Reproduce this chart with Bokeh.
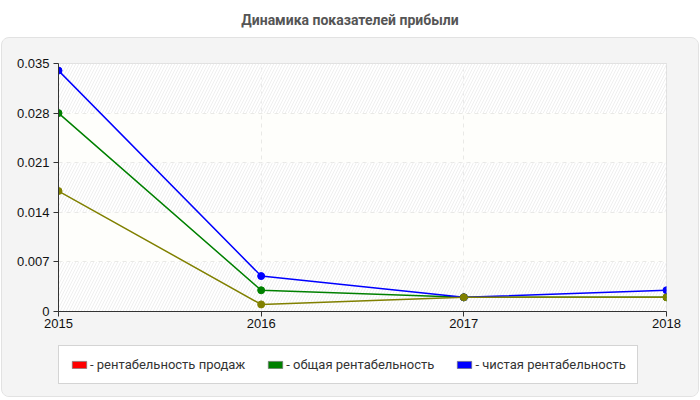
from bokeh.plotting import figure
from bokeh.models import Range1d, FixedTicker, Legend, LegendItem, BoxAnnotation, Div
from bokeh.layouts import column
from bokeh.embed import file_html
from bokeh.resources import INLINE

title_text = "Динамика показателей прибыли"
years = [2015, 2016, 2017, 2018]
year_labels = ["2015", "2016", "2017", "2018"]
sales = [0.017, 0.001, 0.002, 0.002]
total = [0.028, 0.003, 0.002, 0.002]
net = [0.034, 0.005, 0.002, 0.003]
y_ticks = [0, 0.007, 0.014, 0.021, 0.028, 0.035]
y_labels = ["0", "0.007", "0.014", "0.021", "0.028", "0.035"]
series_names = ["- рентабельность продаж", "- общая рентабельность", "- чистая рентабельность"]
legend_colors = ["red", "green", "blue"]

PANEL = "#f4f4f4"

title = Div(
    text=f'<div style="width:700px;text-align:center;font:bold 14px Roboto, sans-serif;color:#555;line-height:40px">{title_text}</div>',
    width=700, height=37, margin=0,
)

p = figure(
    width=696, height=300, output_backend="svg", toolbar_location=None,
    x_range=Range1d(years[0], years[-1]), y_range=Range1d(y_ticks[0], y_ticks[-1]),
    min_border_left=55, min_border_right=32, min_border_top=25, min_border_bottom=27,
    border_fill_color=PANEL, background_fill_color="white",
    outline_line_color="#dddddd", margin=0,
)

# alternating bands
for i in range(len(y_ticks) - 1):
    if i % 2 == 0:
        band = BoxAnnotation(bottom=y_ticks[i], top=y_ticks[i + 1], fill_color="white",
                             hatch_pattern="/", hatch_color="#efefef", hatch_scale=6,
                             hatch_weight=1, line_color=None, level="underlay")
    else:
        band = BoxAnnotation(bottom=y_ticks[i], top=y_ticks[i + 1], fill_color="#fdfdf4",
                             line_color=None, level="underlay")
    p.add_layout(band)

p.xgrid.grid_line_color = "#dddddd"
p.xgrid.grid_line_dash = "4 4"
p.ygrid.grid_line_color = "#dddddd"
p.ygrid.grid_line_dash = "4 4"

p.xaxis.ticker = FixedTicker(ticks=years)
p.xaxis.major_label_overrides = {y: l for y, l in zip(years, year_labels)}
p.yaxis.ticker = FixedTicker(ticks=y_ticks)
p.yaxis.major_label_overrides = {t: l for t, l in zip(y_ticks, y_labels)}
for ax in (p.xaxis[0], p.yaxis[0]):
    ax.axis_line_color = "#333333"
    ax.major_tick_line_color = "#333333"
    ax.major_tick_out = 5
    ax.major_tick_in = 0
    ax.minor_tick_line_color = None
    ax.major_label_text_font = "Liberation Sans"
    ax.major_label_text_font_size = "13px"
    ax.major_label_text_color = "#111111"
p.yaxis.major_label_standoff = 4
p.xaxis.major_label_standoff = 2

# lines
p.line(years, total, line_color="green", line_width=1.5)
p.scatter(years, total, size=7, color="green")
p.line(years, net, line_color="blue", line_width=1.5)
p.scatter(years, net, size=7, color="blue")
p.line(years, sales, line_color="#808000", line_width=1.5)
p.scatter(years, sales, size=7, color="#808000")

# legend in its own strip
lf = figure(
    width=696, height=58, output_backend="svg", toolbar_location=None,
    x_range=Range1d(0, 1), y_range=Range1d(0, 1),
    x_axis_location=None, y_axis_location=None,
    min_border_left=56, min_border_top=7, min_border_right=0, min_border_bottom=0,
    border_fill_color=PANEL, background_fill_color=PANEL,
    outline_line_color=None, margin=0,
)
lf.grid.visible = False
items = []
for name, col in zip(series_names, legend_colors):
    # swatch renderer kept outside the visible range; only its legend glyph shows
    r = lf.rect(x=[-5], y=[-5], width=1, height=1, fill_color=col, line_color="#777777", line_alpha=0.7)
    items.append(LegendItem(label=name, renderers=[r]))

legend = Legend(items=items, orientation="horizontal", location="top_left",
                glyph_width=18, glyph_height=9, label_standoff=2, spacing=21,
                padding=11, margin=0,
                label_text_font="Roboto", label_text_font_size="13px", label_text_color="#333333",
                border_line_color="#aaaaaa", background_fill_color="white", background_fill_alpha=1)
lf.add_layout(legend, "center")

panel = column(p, lf, spacing=0, margin=0,
               styles={"background": PANEL, "border": "1px solid #e2e2e2",
                       "border-radius": "8px", "overflow": "hidden", "margin-left": "1px"})
layout = column(title, panel, spacing=0)
open("out.html", "w").write(file_html(layout, INLINE))
